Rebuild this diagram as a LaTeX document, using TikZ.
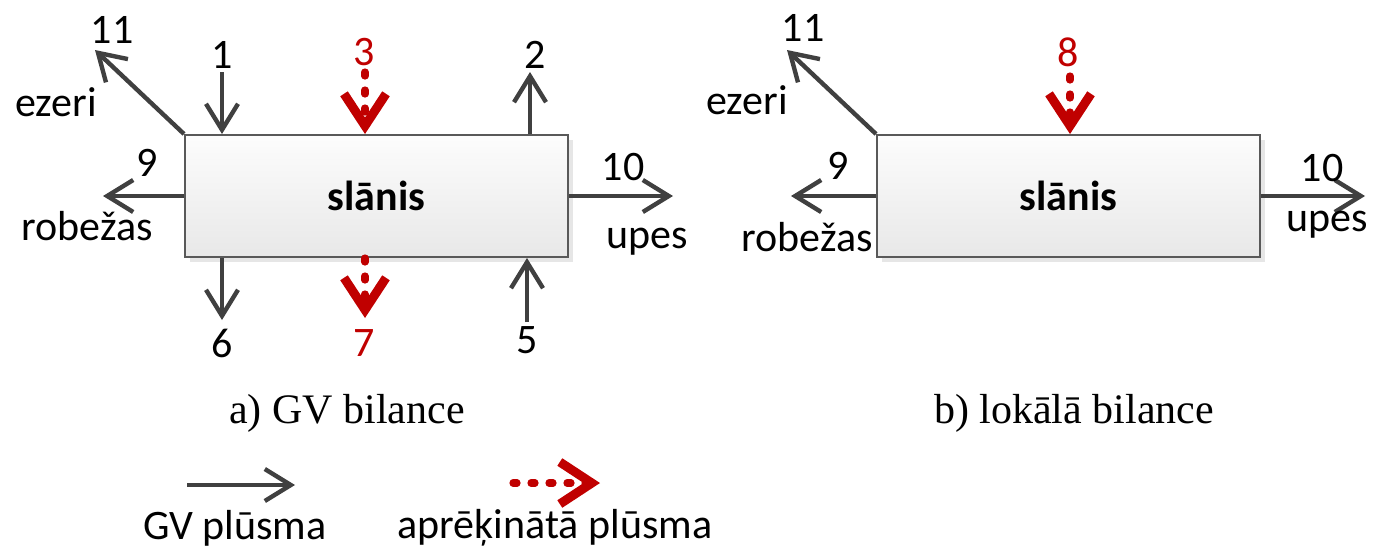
\documentclass[tikz,border=0pt]{standalone}
\usepackage{fontspec}
\setmainfont{Carlito}
\newfontfamily\capfont{Liberation Serif}
\usepackage{tikz}
\usetikzlibrary{arrows.meta,positioning,shadows}
\definecolor{flowgray}{RGB}{64,64,64}
\definecolor{calcred}{RGB}{192,0,0}

\begin{document}
\begin{tikzpicture}[
  x=0.5pt, y=-0.5pt,
  font=\fontsize{21}{25}\selectfont,
  layer/.style={draw=gray!70!black, line width=1pt, top color=gray!2,
    bottom color=gray!18, minimum width=191.5pt, minimum height=61pt,
    font=\fontsize{21}{25}\selectfont\bfseries,
    drop shadow={shadow xshift=2.5pt, shadow yshift=-2.5pt, opacity=0.2}},
  flow/.style={draw=flowgray, line width=2.2pt,
    -{Straight Barb[length=13pt,width=16pt]}},
  calcflow/.style={draw=calcred, line width=3.6pt, line cap=round,
    dash pattern=on 2pt off 7pt,
    -{Straight Barb[length=16pt,width=21pt,line width=4.5pt]}},
  num/.style={inner sep=0pt},
  rednum/.style={num, text=calcred},
  caption/.style={font=\fontsize{21}{25}\selectfont\capfont}
]
\useasboundingbox (0,0) rectangle (1374,553);

% a) GV bilance
\node[layer] (slaA) at (376.5,196) {slānis};
\coordinate (a11) at (95,50);
\coordinate (a1) at (222,72);
\coordinate (a3) at (365,72);
\coordinate (a2) at (530,72);
\coordinate (a9) at (103,196);
\coordinate (a10) at (673,196);
\coordinate (a6) at (222,320);
\coordinate (a7) at (365,318);
\coordinate (a5) at (527,322);
\draw[flow] (slaA.north west) -- (a11);
\draw[flow] (a1) -- (a1 |- slaA.north);
\draw[calcflow] (a3) -- (a3 |- slaA.north);
\draw[flow] (a2 |- slaA.north) -- (a2);
\draw[flow] (slaA.west) -- (a9);
\draw[flow] (slaA.east) -- (a10);
\draw[flow] (a6 |- slaA.south) -- (a6);
\draw[calcflow] (a7 |- slaA.south) -- (a7);
\draw[flow] (a5) -- (a5 |- slaA.south);
\node[num] (n11a) at (112,30) {11};
\node (ezeriA) at (56,102) {ezeri};
\node[num] (n1) at (222,55) {1};
\node[rednum] (n3) at (364,52) {3};
\node[num] (n2) at (535,55) {2};
\node[num] (n9a) at (147,163) {9};
\node (robA) at (87,226) {robežas};
\node[num] (n10a) at (623,167) {10};
\node (upesA) at (647,242) {upes};
\node[num] (n6) at (222,343) {6};
\node[rednum] (n7) at (364,343) {7};
\node[num] (n5) at (527,340) {5};
\node[caption] (capA) at (347,413) {a) GV bilance};

% b) lokālā bilance
\node[layer] (slaB) at (1068.5,196) {slānis};
\coordinate (b11) at (787,50);
\coordinate (b8) at (1070,76);
\coordinate (b9) at (791,196);
\coordinate (b10) at (1365,196);
\draw[flow] (slaB.north west) -- (b11);
\draw[calcflow] (b8) -- (b8 |- slaB.north);
\draw[flow] (slaB.west) -- (b9);
\draw[flow] (slaB.east) -- (b10);
\node[num] (n11b) at (803,28) {11};
\node (ezeriB) at (747,100) {ezeri};
\node[rednum] (n8) at (1068,52) {8};
\node[num] (n9b) at (838,166) {9};
\node (robB) at (807,237) {robežas};
\node[num] (n10b) at (1322,168) {10};
\node (upesB) at (1327,225) {upes};
\node[caption] (capB) at (1074,413) {b) lokālā bilance};

% legend
\coordinate (lg1) at (187,485);
\coordinate (lg2) at (295,485);
\coordinate (lr1) at (513,483);
\coordinate (lr2) at (600,483);
\draw[flow] (lg1) -- (lg2);
\draw[calcflow] (lr1) -- (lr2);
\node (gvflow) at (235,528) {GV plūsma};
\node (calcflowtxt) at (555,528) {aprēķinātā plūsma};
\end{tikzpicture}
\end{document}
